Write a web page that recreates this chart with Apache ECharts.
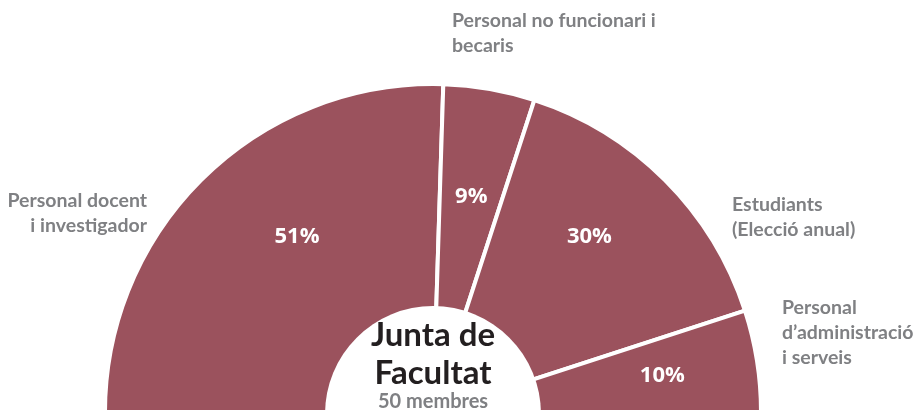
<!DOCTYPE html>
<html lang="ca">
<head>
  <meta charset="utf-8">
  <title>Junta de Facultat</title>
  <script src="https://cdn.jsdelivr.net/npm/echarts@6/dist/echarts.min.js"></script>
  <style>
    html, body { margin: 0; padding: 0; background: #fff; }
    #container { width: 915px; height: 415px; }
  </style>
</head>
<body>
<div id="container"></div>
<script>
  // dades del gràfic
  var categories = [
    'Personal docent\ni investigador',
    'Personal no funcionari i\nbecaris',
    'Estudiants\n(Elecció anual)',
    'Personal\nd\u2019administració\ni serveis'
  ];
  var shares = [51, 9, 30, 10];
  var centreTitle = 'Junta de\nFacultat';
  var centreSub = '50 membres';

  // on van les etiquetes exteriors (x, y, alineació)
  var namePos = [
    [147, 213, 'right'],
    [452, 33, 'left'],
    [732, 217, 'left'],
    [782, 333, 'left']
  ];
  // petit desplaçament dels percentatges
  var pctShift = [[15, -19], [1, -1], [3, -22], [15, -2]];

  var cx = 433, cy = 412;
  var wine = '#9b525d';
  var grey = '#7f8083';

  var slices = categories.map(function (c, i) {
    return { name: c, value: shares[i] };
  });

  var myChart = echarts.init(document.getElementById('container'));

  var option = {
    animation: false,
    title: {
      text: centreTitle,
      subtext: centreSub,
      left: cx,
      top: 316,
      textAlign: 'center',
      itemGap: 0,
      padding: 0,
      textStyle: {
        fontFamily: 'Lato',
        fontWeight: 'bold',
        fontSize: 33,
        lineHeight: 38,
        color: '#231f20'
      },
      subtextStyle: {
        fontFamily: 'Lato',
        fontWeight: 'bold',
        fontSize: 20,
        color: grey
      }
    },
    series: [
      {
        type: 'pie',
        center: [cx, cy],
        radius: [100, 328],
        startAngle: 180,
        endAngle: 360,
        silent: true,
        avoidLabelOverlap: false,
        itemStyle: { color: wine, borderColor: '#fff', borderWidth: 4 },
        label: {
          show: true,
          position: 'inside',
          formatter: '{c}%',
          color: '#fff',
          fontFamily: 'Open Sans',
          fontWeight: 'bold',
          fontSize: 22
        },
        labelLine: { show: false },
        labelLayout: function (p) {
          var s = pctShift[p.dataIndex];
          return { dx: s[0], dy: s[1] };
        },
        data: slices
      },
      {
        // noms de cada grup, per fora
        type: 'pie',
        center: [cx, cy],
        radius: [100, 328],
        startAngle: 180,
        endAngle: 360,
        silent: true,
        avoidLabelOverlap: false,
        itemStyle: { color: 'rgba(0,0,0,0)', borderWidth: 0 },
        label: {
          show: true,
          position: 'outside',
          formatter: '{b}',
          color: grey,
          fontFamily: 'Lato',
          fontWeight: 'bold',
          fontSize: 19.5,
          lineHeight: 25
        },
        labelLine: { show: false },
        labelLayout: function (p) {
          var q = namePos[p.dataIndex];
          return { x: q[0], y: q[1], align: q[2], verticalAlign: 'middle' };
        },
        data: slices
      },
      {
        // el cercle blanc del centre
        type: 'pie',
        center: [cx, 414],
        radius: [0, 108],
        silent: true,
        z: 3,
        itemStyle: { color: '#fff' },
        label: { show: false },
        labelLine: { show: false },
        data: [{ name: 'centre', value: 1 }]
      }
    ]
  };

  myChart.setOption(option);
</script>
</body>
</html>
